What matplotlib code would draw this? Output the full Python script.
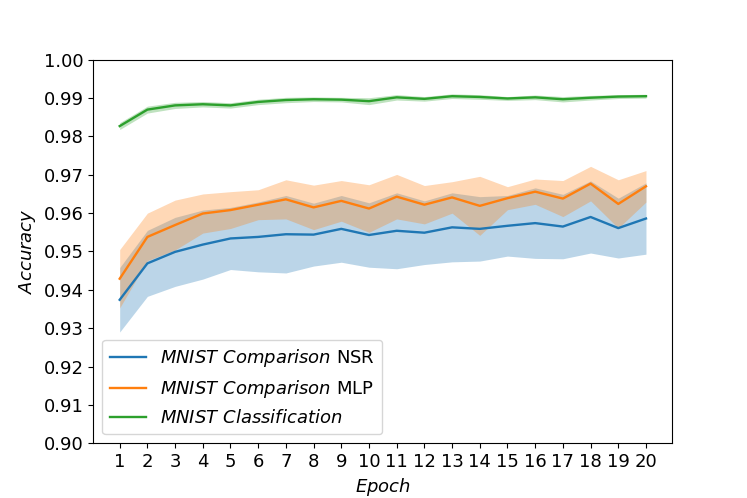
import numpy as np
import matplotlib
matplotlib.use("Agg")
from matplotlib import pyplot as plt

plt.rcParams["font.size"] = 13

epochs = np.arange(1, 21)

# mean accuracy and spread per epoch
nsr_mean = [0.9374, 0.9469, 0.9499, 0.9518, 0.9534, 0.9538, 0.9545, 0.9544, 0.9559, 0.9543,
            0.9554, 0.9549, 0.9563, 0.9559, 0.9567, 0.9574, 0.9565, 0.9590, 0.9561, 0.9586]
nsr_std = [0.0084, 0.0086, 0.0090, 0.0090, 0.0081, 0.0091, 0.0101, 0.0082, 0.0087, 0.0084,
           0.0099, 0.0083, 0.0090, 0.0084, 0.0079, 0.0092, 0.0084, 0.0094, 0.0078, 0.0093]

mlp_mean = [0.9429, 0.9538, 0.9569, 0.9599, 0.9608, 0.9622, 0.9636, 0.9615, 0.9632, 0.9612,
            0.9643, 0.9622, 0.9641, 0.9619, 0.9639, 0.9656, 0.9638, 0.9677, 0.9624, 0.9670]
mlp_std = [0.0076, 0.0062, 0.0065, 0.0051, 0.0048, 0.0039, 0.0051, 0.0058, 0.0053, 0.0062,
           0.0058, 0.0050, 0.0041, 0.0077, 0.0030, 0.0033, 0.0047, 0.0045, 0.0063, 0.0041]

clf_mean = [0.9827, 0.9870, 0.9881, 0.9884, 0.9881, 0.9890, 0.9895, 0.9897, 0.9896, 0.9892,
            0.9902, 0.9898, 0.9905, 0.9903, 0.9899, 0.9902, 0.9897, 0.9901, 0.9904, 0.9905]
clf_std = [0.0009, 0.0009, 0.0008, 0.0007, 0.0007, 0.0007, 0.0007, 0.0006, 0.0006, 0.0009,
           0.0007, 0.0006, 0.0006, 0.0006, 0.0005, 0.0006, 0.0007, 0.0006, 0.0005, 0.0005]

series = [
    (nsr_mean, nsr_std, r"$\it{MNIST\ Comparison}$ NSR", "C0"),
    (mlp_mean, mlp_std, r"$\it{MNIST\ Comparison}$ MLP", "C1"),
    (clf_mean, clf_std, r"$\it{MNIST\ Classification}$", "C2"),
]

fig, ax = plt.subplots(figsize=(7.47, 4.98), dpi=100)

for mean, std, label, c in series:
    mean = np.array(mean)
    std = np.array(std)
    ax.plot(epochs, mean, c=c, lw=1.7, label=label)
    ax.fill_between(epochs, mean - std, mean + std, color=c, alpha=0.3, lw=0)

ax.set_ylim(0.90, 1.00)
ax.set_xticks(epochs)
ax.set_yticks(np.arange(0.90, 1.001, 0.01))
ax.set_xlabel(r"$\it{Epoch}$")
ax.set_ylabel(r"$\it{Accuracy}$")
ax.legend(loc="lower left")

fig.savefig("out.png")
